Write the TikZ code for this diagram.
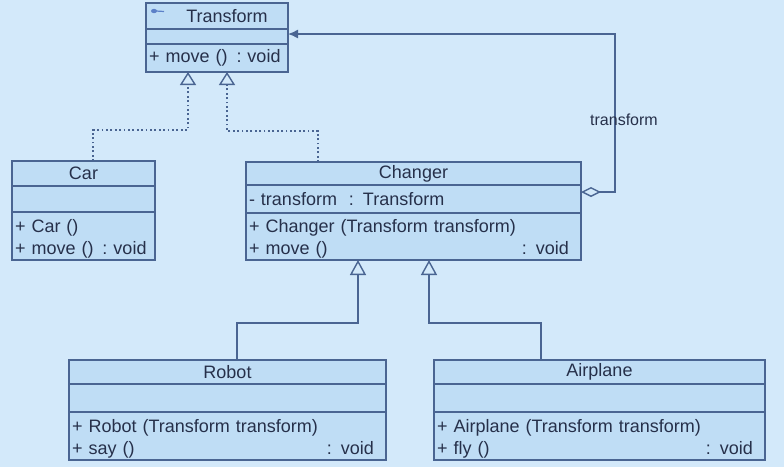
\documentclass[tikz,border=0pt]{standalone}
\usepackage{fontspec}
\setmainfont{Liberation Sans}
\usetikzlibrary{arrows.meta, calc}
\definecolor{umlbg}{HTML}{D3E9FA}
\definecolor{umlfill}{HTML}{BFDDF5}
\definecolor{umlline}{HTML}{4A6592}
\definecolor{umltext}{HTML}{26304A}
\definecolor{umlicon}{HTML}{5C80C8}
\newcommand{\retval}[1]{\hfill#1\kern9pt}
\tikzset{
  cpart/.style={rectangle, draw=umlline, fill=umlfill, line width=1.4pt,
                anchor=north west, inner sep=0pt, outer sep=0pt, minimum width=#1,
                text=umltext, font=\fontsize{18}{22}\selectfont},
  clsname/.style={cpart=#1},
  clsattr/.style={cpart=#1, align=left, inner xsep=3pt},
  clsops/.style={cpart=#1, align=left, inner xsep=3pt,
                 execute at begin node={\rule{0pt}{18pt}}},
  lbl/.style={text=umltext, font=\fontsize{16}{18}\selectfont},
  realize/.style={draw=umlline, line width=1.4pt, dash pattern=on 1.8pt off 2.6pt,
                  -{Triangle[open, length=13pt, width=16pt]}},
  inherit/.style={draw=umlline, line width=1.4pt,
                  -{Triangle[open, length=15pt, width=16pt]}},
  aggr/.style={draw=umlline, line width=1.4pt,
               {Diamond[open, length=20pt, width=10pt]}-{Latex[length=10pt, width=9pt]}},
}

\begin{document}
\begin{tikzpicture}[x=1pt, y=-1pt]
  \fill[umlbg] (0,0) rectangle (784,467);
  \useasboundingbox (0,0) rectangle (784,467);

  % Transform
  \node[clsname=142, minimum height=26] (tfname) at (146,3) {\hspace{20pt}Transform};
  \node[clsattr=142, minimum height=15] (tfattr) at (tfname.south west) {};
  \node[clsattr=142, minimum height=28, text width=136] (tfops) at (tfattr.south west)
    {+~move~()~\,:~void};
  \fill[umlicon] (154,11) ellipse (3 and 2.2);
  \draw[umlicon, line width=1.2pt] (156,11) -- (164,11.5);

  % Car
  \node[clsname=143, minimum height=25] (carname) at (12,161) {Car};
  \node[clsattr=143, minimum height=26] (carattr) at (carname.south west) {};
  \node[clsops=143, minimum height=48, text width=137] (carops) at (carattr.south west)
    {+ Car ()\\+~move~()~\,:~void};

  % Changer
  \node[clsname=335, minimum height=23] (chname) at (246,162) {Changer};
  \node[clsattr=335, minimum height=28, text width=329] (chattr) at (chname.south west)
    {- transform~ : Transform};
  \node[clsops=335, minimum height=47, text width=329] (chops) at (chattr.south west)
    {+ Changer (Transform transform)\\+ move ()\retval{: void}};

  % Robot
  \node[clsname=317, minimum height=24] (roname) at (69,360) {Robot};
  \node[clsattr=317, minimum height=28] (roattr) at (roname.south west) {};
  \node[clsops=317, minimum height=48, text width=311] (roops) at (roattr.south west)
    {+ Robot (Transform transform)\\+ say ()\retval{: void}};

  % Airplane
  \node[clsname=331, minimum height=24] (apname) at (434,360) {Airplane};
  \node[clsattr=331, minimum height=28] (apattr) at (apname.south west) {};
  \node[clsops=331, minimum height=48, text width=325] (apops) at (apattr.south west)
    {+ Airplane (Transform transform)\\+ fly ()\retval{: void}};

  % Realization (dotted)
  \draw[realize] ($(carname.north west)+(81,0)$) -- ++(0,-31) -| ($(tfops.south west)+(42,0)$);
  \draw[realize] ($(chname.north west)+(72,0)$) -- ++(0,-31) -| ($(tfops.south west)+(81,0)$);

  % Generalization
  \draw[inherit] ($(roname.north west)+(168,0)$) -- ++(0,-37) -| ($(chops.south west)+(112,0)$);
  \draw[inherit] ($(apname.north west)+(107,0)$) -- ++(0,-37) -| ($(chops.south west)+(183,0)$);

  % Aggregation
  \draw[aggr] ([yshift=-7pt]chattr.north east) -- ++(34,0)
    |- node[lbl, pos=0.23, xshift=9pt] {transform} ([yshift=2.5pt]tfattr.east);
\end{tikzpicture}
\end{document}
